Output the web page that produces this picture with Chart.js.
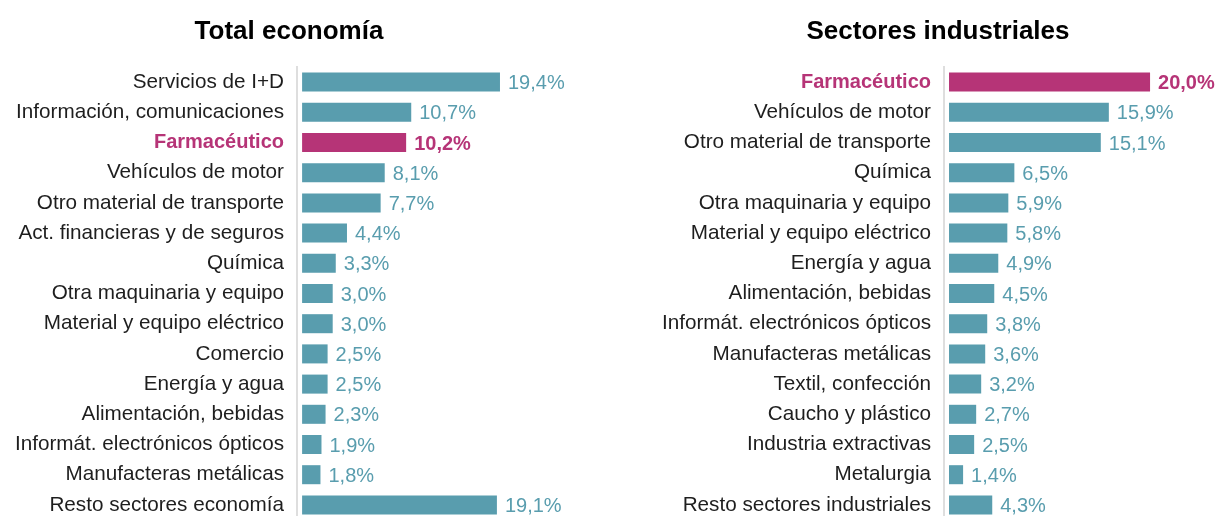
<!DOCTYPE html>
<html>
<head>
<meta charset="utf-8">
<script src="https://cdn.jsdelivr.net/npm/chart.js@4.4.1/dist/chart.umd.min.js"></script>
<style>
  html, body { margin: 0; padding: 0; overflow: hidden; background: #fff; width: 1217px; height: 516px; }
  canvas { position: absolute; top: 0; }
  #c1 { left: 0; }
  #c2 { left: 659px; }
</style>
</head>
<body>
<canvas id="c1" width="578" height="520"></canvas>
<canvas id="c2" width="558" height="520"></canvas>
<script>
const titleLeft = 'Total economía';
const titleRight = 'Sectores industriales';
const highlight = 'Farmacéutico';

const categoriesLeft = [
  'Servicios de I+D', 'Información, comunicaciones', 'Farmacéutico', 'Vehículos de motor',
  'Otro material de transporte', 'Act. financieras y de seguros', 'Química',
  'Otra maquinaria y equipo', 'Material y equipo eléctrico', 'Comercio', 'Energía y agua',
  'Alimentación, bebidas', 'Informát. electrónicos ópticos', 'Manufacteras metálicas',
  'Resto sectores economía'
];
const valuesLeft = [19.4, 10.7, 10.2, 8.1, 7.7, 4.4, 3.3, 3.0, 3.0, 2.5, 2.5, 2.3, 1.9, 1.8, 19.1];

const categoriesRight = [
  'Farmacéutico', 'Vehículos de motor', 'Otro material de transporte', 'Química',
  'Otra maquinaria y equipo', 'Material y equipo eléctrico', 'Energía y agua',
  'Alimentación, bebidas', 'Informát. electrónicos ópticos', 'Manufacteras metálicas',
  'Textil, confección', 'Caucho y plástico', 'Industria extractivas', 'Metalurgia',
  'Resto sectores industriales'
];
const valuesRight = [20.0, 15.9, 15.1, 6.5, 5.9, 5.8, 4.9, 4.5, 3.8, 3.6, 3.2, 2.7, 2.5, 1.4, 4.3];

const TEAL = '#599dae';
const MAGENTA = '#b63477';
const FONT = '"Liberation Sans", Arial, Helvetica, sans-serif';

const valueLabels = {
  id: 'valueLabels',
  afterDatasetsDraw(chart) {
    const ctx = chart.ctx;
    const meta = chart.getDatasetMeta(0);
    const data = chart.data.datasets[0].data;
    meta.data.forEach((bar, i) => {
      const hl = chart.data.labels[i] === highlight;
      ctx.save();
      ctx.font = (hl ? 'bold ' : '') + '20px ' + FONT;
      ctx.fillStyle = hl ? MAGENTA : TEAL;
      ctx.textAlign = 'left';
      ctx.textBaseline = 'middle';
      ctx.fillText(data[i].toFixed(1).replace('.', ',') + '%', bar.x + 8, bar.y + 1.5);
      ctx.restore();
    });
  }
};

function makeChart(id, title, labels, values, axisWidth, xMax) {
  return new Chart(document.getElementById(id), {
    type: 'bar',
    data: {
      labels: labels,
      datasets: [{
        data: values,
        backgroundColor: labels.map(l => l === highlight ? MAGENTA : TEAL),
        borderWidth: 0,
        categoryPercentage: 1,
        barPercentage: 0.63
      }]
    },
    options: {
      indexAxis: 'y',
      responsive: false,
      animation: false,
      layout: { padding: 0 },
      plugins: {
        legend: { display: false },
        tooltip: { enabled: false },
        title: {
          display: true,
          text: title,
          color: '#000',
          font: { family: FONT, size: 26, weight: 'bold', lineHeight: 1.2 },
          padding: { top: 16, bottom: 19.8 }
        }
      },
      scales: {
        x: {
          min: -0.5,
          max: xMax,
          display: false,
          grid: { display: false }
        },
        y: {
          grid: { display: false, drawTicks: false },
          border: { display: true, color: '#dedede', width: 2 },
          afterFit: (scale) => {
            scale.width = axisWidth;
            scale.paddingTop = 0;
            scale.paddingBottom = 0;
          },
          ticks: {
            autoSkip: false,
            padding: 13,
            color: (c) => labels[c.index] === highlight ? MAGENTA : '#1e1e1e',
            font: (c) => ({
              family: FONT,
              size: labels[c.index] === highlight ? 20 : 20.7,
              weight: labels[c.index] === highlight ? 'bold' : 'normal'
            })
          }
        }
      }
    },
    plugins: [valueLabels]
  });
}

makeChart('c1', titleLeft, categoriesLeft, valuesLeft, 297, 27.05);
makeChart('c2', titleRight, categoriesRight, valuesRight, 285, 26.66);
</script>
</body>
</html>
